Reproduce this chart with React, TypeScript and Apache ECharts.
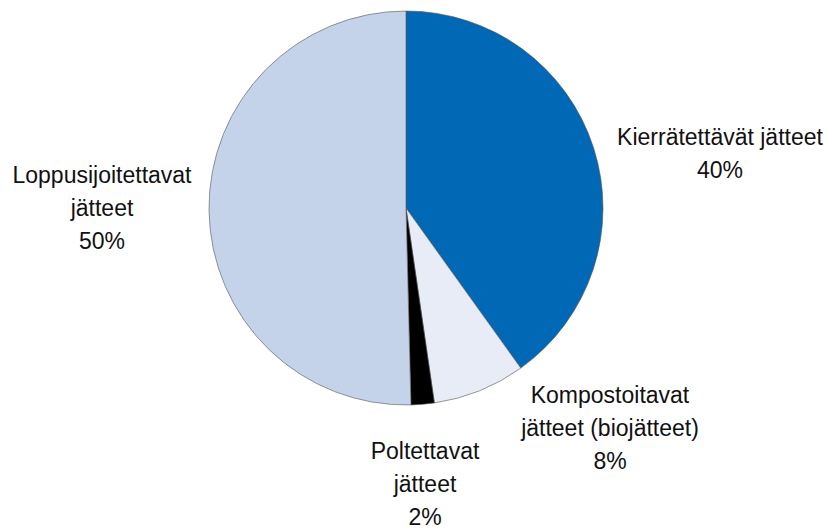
import React, { useEffect, useRef } from "react";
import * as echarts from "echarts";

const categories = [
  "Kierrätettävät jätteet",
  "Kompostoitavat\njätteet (biojätteet)",
  "Poltettavat\njätteet",
  "Loppusijoitettavat\njätteet",
];
const values = [40.1, 7.6, 1.9, 50.4];
const colors = ["#0068B4", "#E8ECF6", "#000000", "#C4D3EA"];

// label block centres (layout only)
const labelCenters: [number, number][] = [
  [720, 153],
  [610, 428],
  [425, 484],
  [102, 208],
];

export default function App() {
  const ref = useRef<HTMLDivElement>(null);
  useEffect(() => {
    if (!ref.current) return;
    const chart = echarts.init(ref.current, undefined, { renderer: "svg" });
    chart.setOption({
      animation: false,
      backgroundColor: "#ffffff",
      series: [
        {
          type: "pie",
          center: [406, 208],
          radius: 197,
          startAngle: 90,
          clockwise: true,
          silent: true,
          itemStyle: { borderColor: "#555", borderWidth: 0.6 },
          label: {
            show: true,
            position: "inside",
            rotate: 0,
            overflow: "none",
            fontFamily: "Liberation Sans, Arial, sans-serif",
            fontSize: 23,
            lineHeight: 33,
            color: "#111",
            align: "center",
            formatter: (p: any) => `${p.name}\n${Math.round(p.percent)}%`,
          },
          labelLine: { show: false },
          labelLayout: (p: any) => {
            const c = labelCenters[p.dataIndex];
            return { x: c[0], y: c[1], align: "center", verticalAlign: "middle" };
          },
          data: categories.map((name, i) => ({
            name,
            value: values[i],
            itemStyle: { color: colors[i] },
          })),
        },
      ],
    });
    return () => chart.dispose();
  }, []);
  return (
    <div
      ref={ref}
      style={{ position: "absolute", left: 0, top: 0, width: 827, height: 529 }}
    />
  );
}
